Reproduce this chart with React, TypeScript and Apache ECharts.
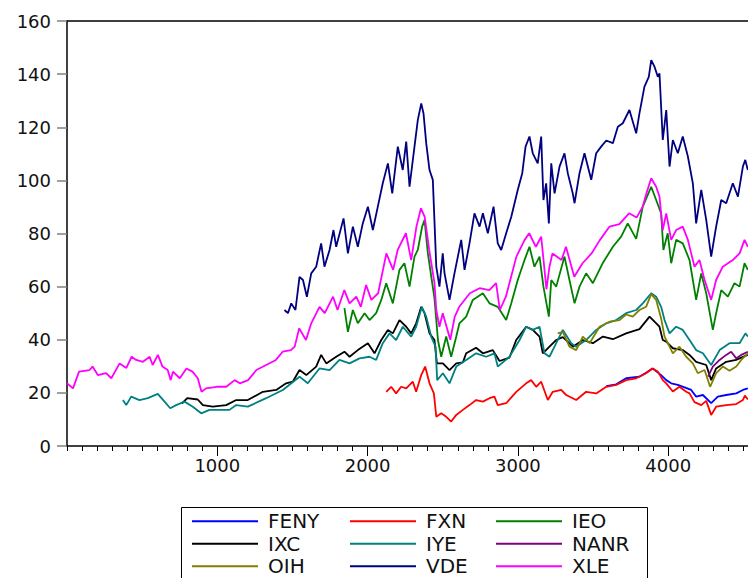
import React, { useEffect, useRef } from "react";
import * as echarts from "echarts";

const seriesNames = ["FENY", "FXN", "IEO", "IXC", "IYE", "NANR", "OIH", "VDE", "XLE"];
const seriesColors = ["#0000FF", "#FF0000", "#008000", "#000000", "#008080", "#800080", "#808000", "#000080", "#FF00FF"];
const xTickLabels = [1000, 2000, 3000, 4000];

const FENY = [[3588,22.5],[3654,23.2],[3720,25.5],[3809,26.1],[3853,27.6],[3898,29.2],[3953,26.7],[3987,24.8],[4020,23.6],[4064,23],[4109,22.1],[4153,21.1],[4186,18.6],[4231,19.2],[4286,16.1],[4330,18.6],[4386,19.2],[4453,19.8],[4497,21.1],[4530,21.7]];
const FXN = [[2124,20.4],[2157,22.3],[2190,19.8],[2223,22.3],[2257,21.7],[2301,24.2],[2323,20.4],[2357,26.7],[2383,29.9],[2412,23.6],[2441,19.8],[2457,11],[2490,12.3],[2523,11],[2556,9.2],[2590,11.7],[2634,13.6],[2678,15.4],[2722,17.3],[2767,16.7],[2811,18],[2844,18.6],[2866,15.4],[2922,16.1],[2989,20.4],[3055,23.6],[3088,24.8],[3122,22.3],[3155,24.2],[3199,17.3],[3232,20.4],[3288,21.1],[3321,19.2],[3388,17.3],[3454,20.4],[3521,19.8],[3588,22.3],[3654,23],[3720,24.8],[3787,25.5],[3853,27.4],[3893,29.2],[3931,28],[3964,24.8],[3987,23.6],[4031,20.5],[4075,22.3],[4120,20.4],[4142,19.8],[4175,16.5],[4220,15.4],[4253,17],[4286,11.7],[4319,14.8],[4386,15.4],[4453,15.8],[4497,17.3],[4510,19],[4530,17.5]];
const IEO = [[1846,51.9],[1869,43],[1902,51.2],[1935,46.2],[1980,50],[2013,47.4],[2057,50],[2091,55],[2124,61.3],[2168,53.7],[2212,66.3],[2245,68.8],[2279,60],[2312,71.3],[2334,73.8],[2363,82.6],[2379,85.1],[2401,72.5],[2430,61.3],[2445,55.6],[2468,39.9],[2490,33.6],[2523,41.2],[2556,33.6],[2590,41.2],[2611,46.2],[2656,48.7],[2700,55],[2767,57.5],[2811,53.7],[2866,52.4],[2922,47.4],[2956,53.7],[2999,62.5],[3044,70],[3077,75],[3110,67.5],[3144,71.3],[3170,60],[3206,48.7],[3222,62.5],[3255,60],[3310,71.3],[3343,62.5],[3377,53.7],[3410,60],[3454,65],[3499,61.3],[3566,69],[3632,75],[3687,78.8],[3731,83.8],[3787,78],[3831,90.1],[3887,97.6],[3920,92.6],[3953,87.6],[3968,73.8],[3997,80.1],[4020,68.8],[4053,77.6],[4097,76.3],[4142,70],[4186,55],[4220,65],[4253,57.5],[4297,43.7],[4319,50],[4353,58.7],[4397,56.2],[4441,61.3],[4475,60],[4508,68.8],[4530,66.3]];
const IXC = [[765,16],[800,18],[870,17.5],[904,15.4],[970,14.8],[1059,15.4],[1126,17.3],[1203,17.3],[1303,20.4],[1392,21.1],[1458,23.6],[1502,24.2],[1547,28.6],[1592,26.7],[1658,29.9],[1691,34.3],[1725,31.1],[1791,33.6],[1846,35.5],[1880,33.6],[1935,36.1],[2002,38.7],[2046,34.9],[2091,39.9],[2135,43.7],[2168,42.4],[2212,47.4],[2257,44.9],[2290,42.4],[2323,46.2],[2357,52.4],[2379,50],[2412,42.4],[2445,39.9],[2461,31.1],[2501,31.1],[2545,28.6],[2590,31.1],[2634,31.5],[2656,34.9],[2722,37],[2767,34.9],[2833,36.1],[2878,32],[2944,33.3],[2989,39.9],[3055,44.9],[3099,43.7],[3144,41.2],[3166,34.9],[3210,37.4],[3255,39.9],[3299,41],[3366,37.4],[3432,39.9],[3499,38.7],[3566,41.2],[3632,40.2],[3720,42.4],[3809,44],[3876,48.7],[3909,46.8],[3942,44.9],[3964,39.9],[3987,39.3],[4031,36.8],[4097,36.1],[4142,34.3],[4186,31.7],[4253,30.5],[4286,24.8],[4319,29.2],[4386,31.7],[4452,32.4],[4530,34.3]];
const IYE = [[372,17.3],[394,15.4],[427,18.6],[482,17.3],[538,18],[604,19.6],[649,16.7],[687,14.2],[726,15.4],[782,16.7],[837,14.8],[893,12.3],[948,13.6],[1015,13.6],[1081,13.6],[1126,15.4],[1203,14.8],[1325,18],[1436,21.1],[1547,26.1],[1602,23.6],[1680,29.2],[1747,28.6],[1813,32.4],[1880,31.1],[1946,33],[2013,33.6],[2057,32.4],[2101,38.7],[2146,42.4],[2190,39.9],[2234,44.9],[2290,41.2],[2323,44.9],[2361,52.4],[2390,48.7],[2423,41.2],[2452,37.4],[2463,24.8],[2501,27.4],[2545,23.6],[2590,29.9],[2656,32.4],[2722,34.9],[2789,33.6],[2844,34.9],[2866,29.9],[2944,33.6],[3011,39.9],[3055,44.9],[3099,43.7],[3144,44.9],[3177,34.9],[3210,33.6],[3255,38.7],[3299,43.7],[3355,38.7],[3388,37.4],[3454,39.9],[3521,43.7],[3588,46.2],[3654,47.4],[3720,50],[3787,51.2],[3831,53.7],[3887,57.5],[3920,56.2],[3953,52.4],[3976,47.4],[4009,42.4],[4053,44.9],[4097,43.7],[4142,39.9],[4186,36.1],[4231,34.9],[4286,30.5],[4342,36.1],[4408,38.7],[4475,38.7],[4514,42.4],[4530,41.2]];
const NANR = [[4265,26.1],[4297,29.9],[4342,32.4],[4386,34.3],[4419,35.5],[4453,33],[4486,34.3],[4530,35.5]];
const OIH = [[3265,42.4],[3299,43],[3343,37.4],[3388,36.1],[3432,41.2],[3477,38.7],[3543,44.9],[3610,46.8],[3676,47.4],[3720,49.5],[3764,48.7],[3809,51.2],[3853,52.4],[3887,57.2],[3920,55],[3953,48],[3976,41.2],[4009,37.4],[4031,34.9],[4075,37.4],[4120,33.6],[4164,31.1],[4197,27.4],[4242,28.6],[4279,22.3],[4319,27.4],[4364,29.9],[4408,28.3],[4453,29.9],[4486,32.4],[4530,34.9]];
const VDE = [[1447,51.2],[1470,50],[1492,53.7],[1520,51.2],[1547,63.7],[1570,62.5],[1596,56.2],[1625,65],[1658,67.5],[1691,76.3],[1713,67.5],[1747,73.8],[1773,81.3],[1791,75],[1840,85.7],[1869,72.5],[1902,82.6],[1935,75],[1968,83.8],[2002,90.1],[2035,81.3],[2068,90.1],[2101,98.9],[2135,106.4],[2164,95.1],[2201,112.7],[2234,103.9],[2257,114.6],[2279,97.6],[2312,112.7],[2334,122.7],[2357,129],[2372,125.2],[2390,114],[2412,103.9],[2434,100.2],[2457,67.5],[2478,60],[2500,72.5],[2512,65],[2545,55],[2578,65],[2623,77.6],[2645,66.3],[2678,76.3],[2711,87.6],[2745,82.6],[2767,87.6],[2800,80.1],[2838,90.1],[2866,76.3],[2889,73.8],[2922,80.1],[2956,86.3],[2999,96.4],[3029,102.7],[3051,112.7],[3077,116.5],[3099,110.2],[3132,106.4],[3155,116.5],[3170,92.6],[3188,98.9],[3206,83.8],[3222,106.4],[3244,95.1],[3277,105.2],[3310,110.2],[3332,102.7],[3365,95.1],[3377,91.4],[3410,102.7],[3443,110.2],[3488,100.2],[3521,110.2],[3554,112.7],[3588,115],[3632,114],[3665,120.2],[3698,121.5],[3742,126.5],[3787,117.7],[3809,125.3],[3842,135.3],[3871,139],[3887,145.3],[3909,142.8],[3931,139],[3942,140.3],[3964,115.2],[3987,126.5],[4009,105.2],[4031,115.2],[4064,110.2],[4097,116.5],[4131,109],[4164,98.9],[4186,83.8],[4220,96.4],[4253,85.1],[4286,71.3],[4319,82.6],[4353,92.6],[4386,91.4],[4430,98.9],[4464,93.9],[4497,105.2],[4513,107.7],[4530,103.9]];
const XLE = [[0,23.6],[40,21.7],[80,28],[150,28.6],[170,29.9],[205,26.7],[260,27.4],[295,25.5],[350,31.1],[395,29.4],[430,33.6],[460,32.4],[505,31.7],[550,33.6],[570,30.5],[605,34.3],[635,29.9],[670,28.6],[690,24.8],[705,28],[750,25.5],[795,29.2],[835,28],[870,25.5],[895,20.4],[925,21.7],[995,22.3],[1060,22.3],[1115,24.8],[1150,23.6],[1205,24.8],[1260,28.6],[1325,30.5],[1390,32.4],[1435,35.5],[1490,36.1],[1515,37.4],[1545,44.3],[1590,39.9],[1625,46.2],[1680,52.4],[1715,50],[1770,56.2],[1800,51.2],[1845,58.7],[1880,53.7],[1925,56.2],[1955,52.4],[1990,60.6],[2025,55],[2070,57.5],[2125,72.5],[2170,66.3],[2200,73.8],[2255,80.1],[2290,70],[2325,82.6],[2355,89.5],[2380,86.3],[2410,73.8],[2445,61.3],[2457,51.2],[2478,44.9],[2500,50],[2550,40],[2580,48.7],[2610,52.4],[2680,57.5],[2745,59.4],[2810,58.7],[2855,61.3],[2880,51.2],[2920,56.2],[2990,71.3],[3045,77.6],[3075,80.1],[3120,75],[3155,78.8],[3190,59],[3210,67.5],[3230,72.5],[3290,70],[3320,75],[3375,63.7],[3430,68.8],[3490,72.5],[3545,77.5],[3610,82.6],[3675,83.5],[3740,87.6],[3790,86],[3830,90.1],[3855,95.1],[3887,100.8],[3920,97.6],[3942,93.9],[3964,81.3],[3987,87.6],[4020,77.6],[4053,81.3],[4097,82.6],[4131,77.6],[4175,67.5],[4208,70],[4242,62.5],[4286,55],[4319,62.5],[4363,67.5],[4430,70],[4475,72.5],[4508,77.6],[4530,75]];

const seriesData = [FENY, FXN, IEO, IXC, IYE, NANR, OIH, VDE, XLE];
const legendColumns = [["FENY", "IXC", "OIH"], ["FXN", "IYE", "VDE"], ["IEO", "NANR", "XLE"]];

const X_MIN = 0;
const X_MAX = 4531;
const Y_MIN = 0;
const Y_MAX = 160;

export default function App() {
  const ref = useRef<HTMLDivElement>(null);
  useEffect(() => {
    if (!ref.current) return;
    const chart = echarts.init(ref.current, null, { renderer: "svg" });
    const font = "DejaVu Sans";
    const legendLefts = [192, 350, 496];
    chart.setOption({
      animation: false,
      backgroundColor: "#ffffff",
      grid: { left: 67, right: 0, top: 21, bottom: 132, containLabel: false },
      xAxis: [
        {
          type: "value",
          position: "bottom",
          min: X_MIN,
          max: X_MAX,
          interval: 1000,
          axisLine: { show: true, onZero: false, lineStyle: { color: "#000", width: 1.5 } },
          axisTick: { show: true, length: 10, lineStyle: { color: "#000", width: 1 } },
          axisLabel: {
            show: true,
            margin: 10,
            color: "#111",
            fontFamily: font,
            fontSize: 18,
            showMinLabel: false,
            showMaxLabel: false,
            formatter: (v: number) => (xTickLabels.indexOf(v) >= 0 ? String(v) : ""),
          },
          splitLine: { show: false },
        },
        {
          type: "value",
          position: "bottom",
          min: X_MIN,
          max: X_MAX,
          interval: 100,
          axisLine: { show: false },
          axisTick: { show: true, length: 5, lineStyle: { color: "#000", width: 1 } },
          axisLabel: { show: false },
          splitLine: { show: false },
        },
        {
          type: "value",
          position: "top",
          min: X_MIN,
          max: X_MAX,
          axisLine: { show: true, onZero: false, lineStyle: { color: "#000", width: 1.5 } },
          axisTick: { show: false },
          axisLabel: { show: false },
          splitLine: { show: false },
        },
      ],
      yAxis: {
        type: "value",
        min: Y_MIN,
        max: Y_MAX,
        interval: 20,
        axisLine: { show: true, onZero: false, lineStyle: { color: "#000", width: 1.5 } },
        axisTick: { show: true, length: 10, lineStyle: { color: "#808080", width: 1.5 } },
        axisLabel: { margin: 16, color: "#111", fontFamily: font, fontSize: 18 },
        splitLine: { show: false },
      },
      legend: legendColumns.map((col, i) => ({
        data: col,
        orient: "vertical",
        left: legendLefts[i],
        top: 510,
        width: 150,
        height: 100,
        padding: 0,
        itemGap: 0,
        itemWidth: 66,
        itemHeight: 2,
        icon: "rect",
        selectedMode: false,
        textStyle: { fontFamily: font, fontSize: 20, color: "#111", lineHeight: 22.5, padding: [0, 0, 0, 5] },
      })),
      graphic: [
        {
          type: "rect",
          shape: { x: 181.5, y: 507.5, width: 466, height: 100 },
          style: { fill: "none", stroke: "#000", lineWidth: 1 },
          silent: true,
        },
      ],
      series: seriesNames.map((name, i) => ({
        name,
        type: "line",
        xAxisIndex: 0,
        data: seriesData[i],
        showSymbol: false,
        symbol: "none",
        color: seriesColors[i],
        lineStyle: { color: seriesColors[i], width: 1.8 },
        z: 2 + i,
      })),
    });
    return () => chart.dispose();
  }, []);
  return <div ref={ref} style={{ width: 748, height: 578, position: "absolute", left: 0, top: 0 }} />;
}
